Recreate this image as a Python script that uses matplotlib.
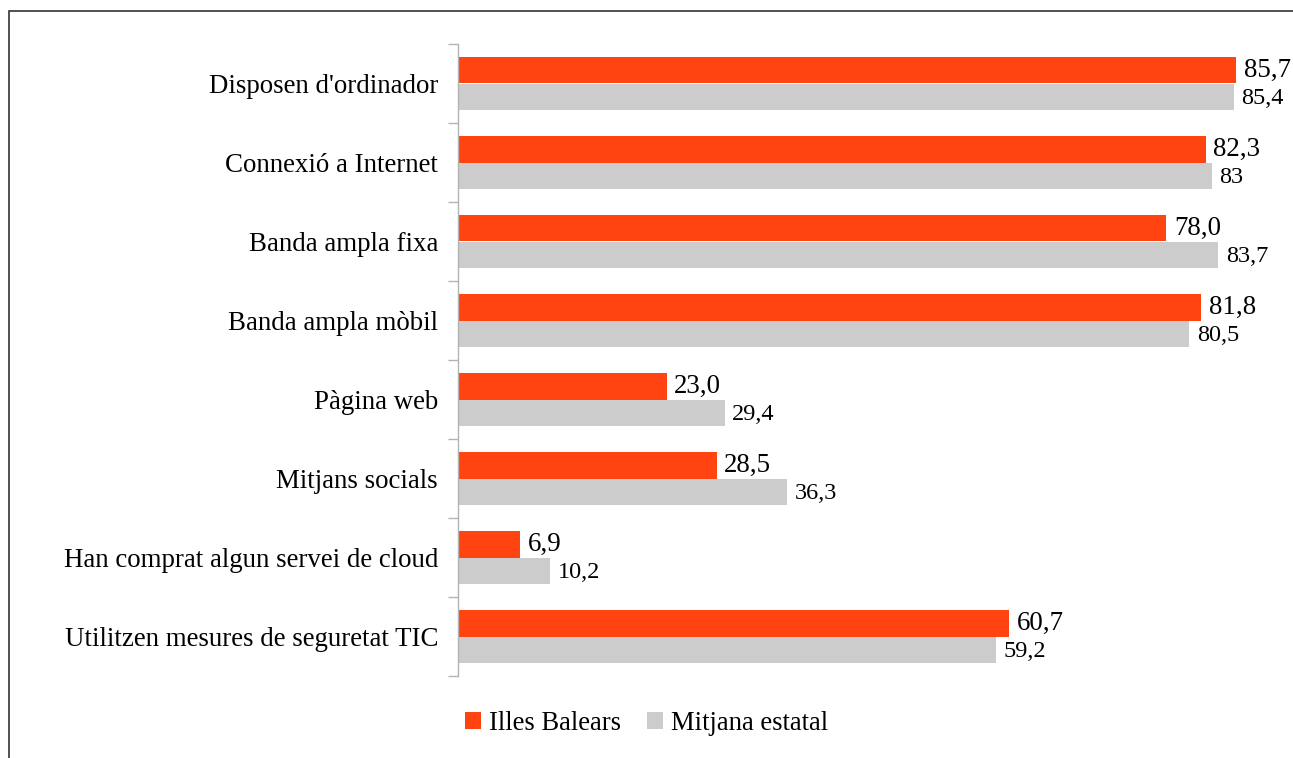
import numpy as np
import matplotlib
matplotlib.use("Agg")
import matplotlib.pyplot as plt
from matplotlib.patches import Rectangle

# dades
categories = ["Disposen d'ordinador", "Connexió a Internet", "Banda ampla fixa",
              "Banda ampla mòbil", "Pàgina web", "Mitjans socials",
              "Han comprat algun servei de cloud", "Utilitzen mesures de seguretat TIC"]
balears = [85.7, 82.3, 78.0, 81.8, 23.0, 28.5, 6.9, 60.7]
estatal = [85.4, 83.0, 83.7, 80.5, 29.4, 36.3, 10.2, 59.2]
series_names = ["Illes Balears", "Mitjana estatal"]

plt.rcParams['font.family'] = ['Liberation Serif', 'DejaVu Serif']
red = '#ff4411'
grey = '#cccccc'

fig = plt.figure(figsize=(12.93, 7.58), dpi=100)
ax = fig.add_axes([457.5 / 1293, 82 / 758, 818 / 1293, 632 / 758])

y = np.arange(len(categories))
h = 0.34
b1 = ax.barh(y - h / 2, balears, height=h, color=red, label=series_names[0])
b2 = ax.barh(y + h / 2, estatal, height=h, color=grey, label=series_names[1])

for yi, v in zip(y, balears):
    ax.annotate(f"{v:.1f}".replace('.', ','), (v, yi - h / 2), xytext=(5.5, 0),
                textcoords='offset points', va='center', ha='left', fontsize=19.4)
for yi, v in zip(y, estatal):
    ax.annotate(("%g" % v).replace('.', ','), (v, yi + h / 2), xytext=(5.5, -1),
                textcoords='offset points', va='center', ha='left', fontsize=17.5)

ax.set_xlim(0, 90)
ax.set_ylim(len(categories) - 0.5, -0.5)
ax.set_yticks(y)
ax.set_yticklabels(categories, fontsize=19.4)
ax.set_yticks(np.arange(len(categories) + 1) - 0.5, minor=True)
ax.tick_params(axis='y', which='major', length=0, pad=14)
ax.tick_params(axis='y', which='minor', length=7.5, width=1, color='#b3b3b3', direction='out')
ax.xaxis.set_visible(False)
for s in ['top', 'right', 'bottom']:
    ax.spines[s].set_visible(False)
ax.spines['left'].set_color('#b3b3b3')
ax.spines['left'].set_linewidth(1)

fig.legend(handles=[b1, b2], loc='center', bbox_to_anchor=(0.5, 1 - 723 / 758),
           ncol=2, frameon=False, fontsize=19.2, handlelength=0.6, handleheight=0.6,
           handletextpad=0.3, columnspacing=1.0)

# marc exterior (continua fora de la imatge per la dreta i per baix)
fig.patches.append(Rectangle((9 / 1293, -0.5), 1.2, 1.5 - 11 / 758, transform=fig.transFigure,
                             fill=False, edgecolor='#333333', linewidth=1.2))

fig.savefig('out.png', dpi=100)
